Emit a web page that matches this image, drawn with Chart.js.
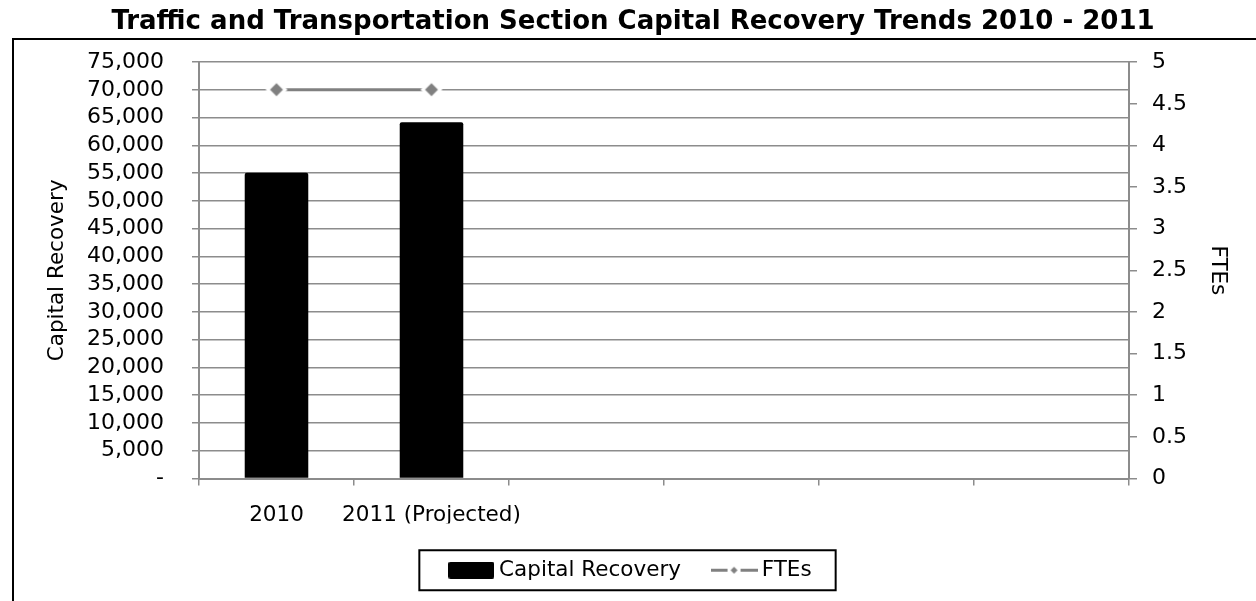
<!DOCTYPE html>
<html>
<head>
<meta charset="utf-8">
<title>Capital Recovery Trends</title>
<script src="https://cdn.jsdelivr.net/npm/chart.js@4/dist/chart.umd.min.js"></script>
<style>
  html, body { margin: 0; padding: 0; background: #fff; }
</style>
</head>
<body>
<canvas id="recoveryChart" width="1256" height="601"></canvas>
<script>
// categories and values
const years = ['2010', '2011 (Projected)', '', '', '', ''];
const capitalRecovery = [55100, 64200, null, null, null, null];
const ftes = [4.67, 4.67, null, null, null, null];

// axis ranges
const recoveryMax = 75000;
const recoveryStep = 5000;
const fteMax = 5;
const fteStep = 0.5;

const gridGray = '#8c8c8c';
const lineGray = '#808080';

Chart.defaults.font.family = '"DejaVu Sans", Verdana, sans-serif';
Chart.defaults.font.size = 21.5;
Chart.defaults.color = '#000';

function swatch(w, h, draw) {
  const c = document.createElement('canvas');
  c.width = w;
  c.height = h;
  draw(c.getContext('2d'));
  return c;
}

function diamond(ctx, cx, cy, r, fill) {
  ctx.fillStyle = fill;
  ctx.beginPath();
  ctx.moveTo(cx, cy - r);
  ctx.lineTo(cx + r, cy);
  ctx.lineTo(cx, cy + r);
  ctx.lineTo(cx - r, cy);
  ctx.closePath();
  ctx.fill();
}

// marker with a white halo so the line and grid stop short of it
const fteMarker = swatch(24, 24, ctx => {
  diamond(ctx, 12, 12, 11, '#fff');
  diamond(ctx, 12, 12, 6.5, lineGray);
});

const barKey = swatch(46, 17, ctx => {
  ctx.fillStyle = '#000';
  ctx.beginPath();
  ctx.roundRect(0, 0, 46, 17, 2);
  ctx.fill();
});

const lineKey = swatch(47, 17, ctx => {
  ctx.strokeStyle = lineGray;
  ctx.lineWidth = 3;
  ctx.beginPath();
  ctx.moveTo(0, 8.5); ctx.lineTo(17, 8.5);
  ctx.moveTo(30, 8.5); ctx.lineTo(47, 8.5);
  ctx.stroke();
  diamond(ctx, 23.5, 8.5, 3.5, lineGray);
});

const chartFrame = {
  id: 'chartFrame',
  beforeDraw(chart) {
    const ctx = chart.ctx;
    ctx.save();
    ctx.fillStyle = '#fff';
    ctx.fillRect(0, 0, chart.width, chart.height);
    ctx.strokeStyle = '#000';
    ctx.lineWidth = 2;
    ctx.strokeRect(13, 39, chart.width, chart.height);
    ctx.restore();
  },
  afterDraw(chart) {
    const boxes = chart.legend.legendHitBoxes;
    if (!boxes || boxes.length < 2) return;
    const first = boxes[0];
    const last = boxes[boxes.length - 1];
    const mid = first.top + first.height / 2;
    const left = first.left - 35;
    const right = last.left + last.width + 24;
    const ctx = chart.ctx;
    ctx.save();
    ctx.strokeStyle = '#000';
    ctx.lineWidth = 2;
    ctx.strokeRect(left, mid - 20, right - left, 40);
    ctx.restore();
  }
};

new Chart(document.getElementById('recoveryChart'), {
  data: {
    labels: years,
    datasets: [{
      type: 'line',
      label: 'FTEs',
      data: ftes,
      yAxisID: 'yFte',
      borderColor: lineGray,
      borderWidth: 3,
      pointStyle: fteMarker,
      pointRadius: 6,
      spanGaps: false
    }, {
      type: 'bar',
      label: 'Capital Recovery',
      data: capitalRecovery,
      yAxisID: 'y',
      backgroundColor: '#000',
      borderRadius: 2,
      barPercentage: 0.41,
      categoryPercentage: 1.0
    }]
  },
  options: {
    responsive: false,
    animation: false,
    layout: { padding: { left: 20, right: 10, top: 0, bottom: 10 } },
    scales: {
      x: {
        offset: true,
        grid: { offset: true, drawOnChartArea: false, tickLength: 7, color: gridGray, lineWidth: 1.5 },
        border: { color: gridGray, width: 2 },
        ticks: { padding: 17, maxRotation: 0, autoSkip: false },
        afterFit: s => { s.height = 45; }
      },
      y: {
        position: 'left',
        min: 0,
        max: recoveryMax,
        ticks: {
          stepSize: recoveryStep,
          autoSkip: false,
          padding: 28,
          font: { size: 22 },
          callback: v => v === 0 ? '-' : v.toLocaleString('en-US')
        },
        grid: { color: gridGray, lineWidth: 1.5, tickLength: 7 },
        border: { color: gridGray, width: 2 },
        title: { display: true, text: 'Capital Recovery', padding: { top: 25, bottom: 0 } },
        afterFit: s => { s.width = 179; }
      },
      yFte: {
        position: 'right',
        min: 0,
        max: fteMax,
        ticks: { stepSize: fteStep, autoSkip: false, padding: 15, font: { size: 22 }, callback: v => String(v) },
        grid: { drawOnChartArea: false, tickLength: 8, color: gridGray, lineWidth: 1.5 },
        border: { color: gridGray, width: 2 },
        title: { display: true, text: 'FTEs', padding: { top: 16, bottom: 0 } },
        afterFit: s => { s.width = 117; }
      }
    },
    plugins: {
      title: {
        display: true,
        text: 'Traffic and Transportation Section Capital Recovery Trends 2010 - 2011',
        font: { size: 26, weight: 'bold' },
        color: '#000',
        padding: { top: 7, bottom: 24 }
      },
      legend: {
        position: 'bottom',
        labels: {
          usePointStyle: true,
          pointStyleWidth: 34,
          boxHeight: 17,
          padding: 36,
          generateLabels: chart => [
            { text: 'Capital Recovery', pointStyle: barKey, datasetIndex: 1, hidden: false, lineWidth: 0, fontColor: '#000' },
            { text: 'FTEs', pointStyle: lineKey, datasetIndex: 0, hidden: false, lineWidth: 0, fontColor: '#000' }
          ]
        }
      },
      tooltip: { enabled: false }
    }
  },
  plugins: [chartFrame]
});
</script>
</body>
</html>
